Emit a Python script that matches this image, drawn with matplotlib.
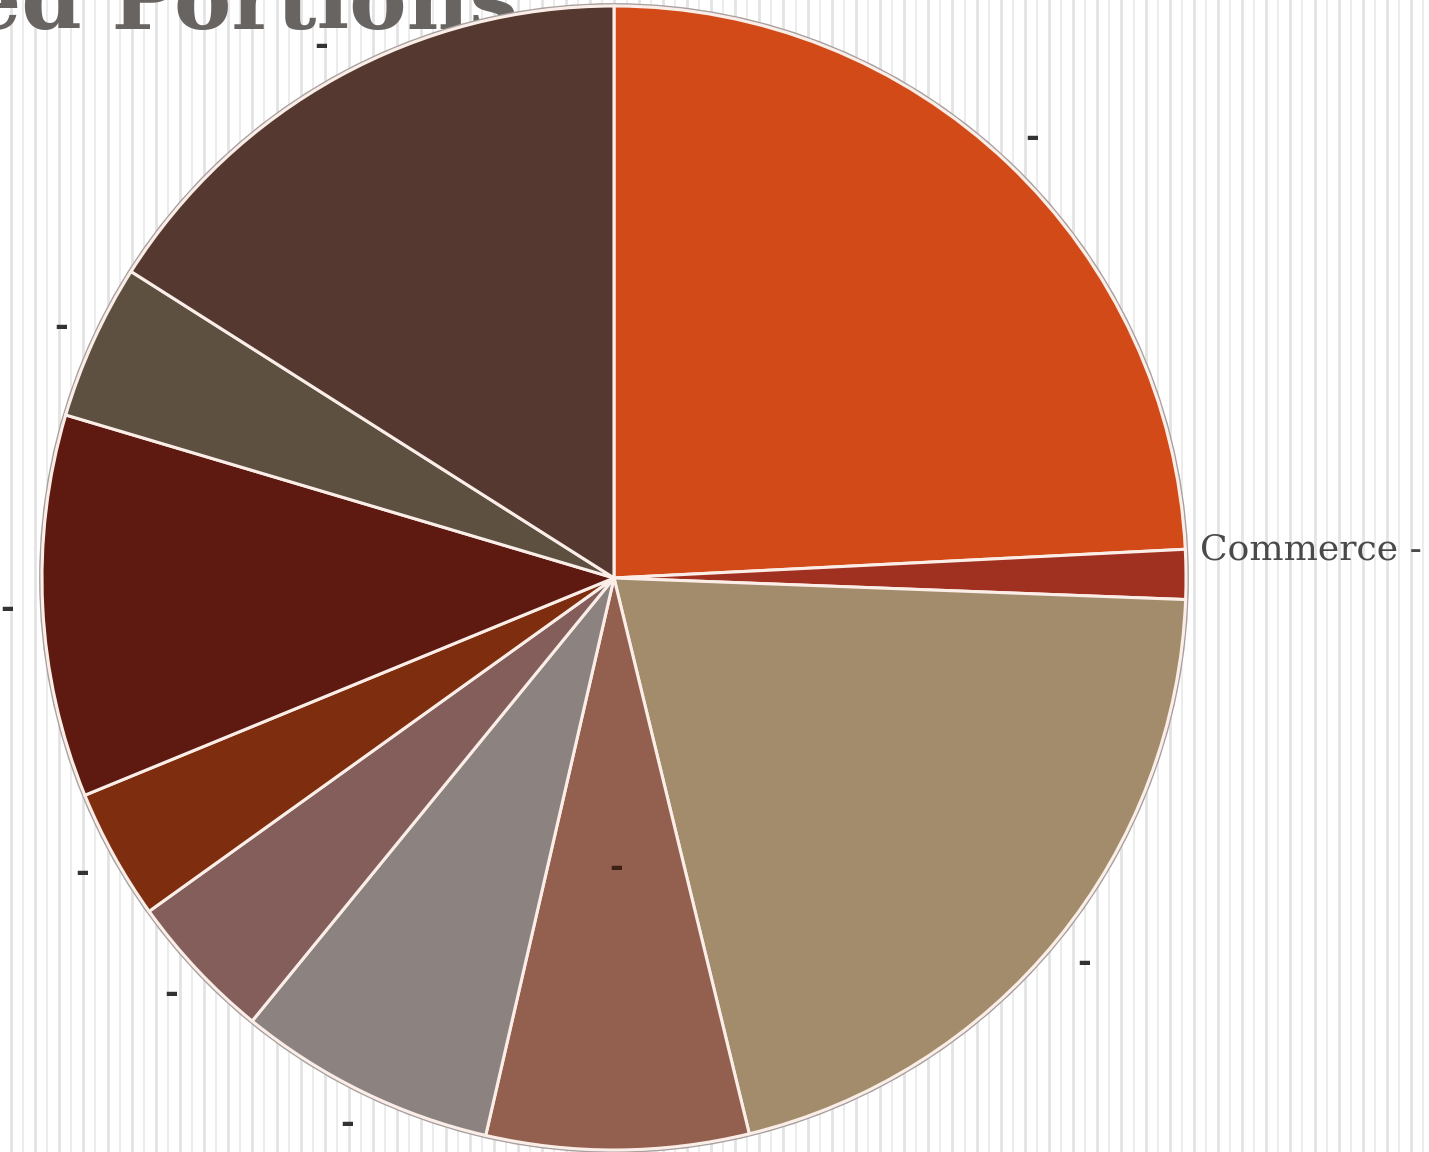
import numpy as np
import matplotlib
matplotlib.use("Agg")
import matplotlib.pyplot as plt
from matplotlib.patches import Circle

# Share of each portion (percent), clockwise from 12 o'clock
names = ["", "Commerce", "", "", "", "", "", "", "", ""]
shares = [24.2, 1.4, 20.6, 7.4, 7.3, 4.2, 3.7, 10.8, 4.4, 16.0]
colors = ["#d24a17", "#a0301f", "#a38c6b", "#93604f", "#8c8280",
          "#845e5a", "#7e2d0e", "#5e1a10", "#5d5040", "#553930"]
title_text = "Segmented Portions"

W, H = 1429, 1152
fig = plt.figure(figsize=(W / 100, H / 100), dpi=100)
ax = fig.add_axes([0, 0, 1, 1])
ax.set_xlim(0, W)
ax.set_ylim(0, H)
ax.set_aspect("equal")
ax.axis("off")
fig.patch.set_facecolor("white")

# striped backdrop
xs = np.arange(0, W + 12, 12.07) + 11
for i, x in enumerate(xs):
    if i % 2 == 0:
        ax.axvline(x, color="#e3e3e3", lw=2.0, zorder=0)
    else:
        ax.axvline(x, color="#ececec", lw=1.4, zorder=0)

# title, partly hidden behind the pie
ax.text(518, H - 29, title_text, ha="right", va="baseline",
        fontsize=62, fontweight="bold", family="DejaVu Serif",
        color="#686462", zorder=0.5, clip_on=False)

cx, cy, R = 614, H - 578, 572

# thin grey rim around the pie
ax.add_patch(Circle((cx, cy), R + 2, facecolor="none", edgecolor="#a8a09e",
                    lw=1.3, zorder=0.9))

wedges, _ = ax.pie(shares, colors=colors, startangle=90, counterclock=False,
                   center=(cx, cy), radius=R,
                   wedgeprops=dict(edgecolor="#fbeee8", linewidth=2.2))
ax.set_xlim(0, W)
ax.set_ylim(0, H)

dash_kw = dict(ha="center", va="center", fontsize=24, fontweight="bold",
               family="DejaVu Sans")
for i, (w, name) in enumerate(zip(wedges, names)):
    mid = np.deg2rad((w.theta1 + w.theta2) / 2)
    if name:
        upper = np.deg2rad(max(w.theta1, w.theta2))
        r = 1.025 * R
        ax.text(cx + r * np.cos(upper), cy + r * np.sin(upper) - 1, f"{name} -",
                ha="left", va="center", fontsize=26, family="DejaVu Serif",
                color="#4a4a4a")
    elif i == 3:
        r = 0.507 * R
        ax.text(cx + r * np.cos(mid), cy + r * np.sin(mid), "-",
                color="#3f2016", **dash_kw)
    else:
        r = 1.062 * R
        ax.text(cx + r * np.cos(mid), cy + r * np.sin(mid), "-",
                color="#333333", **dash_kw)

fig.savefig("out.png", dpi=100)
